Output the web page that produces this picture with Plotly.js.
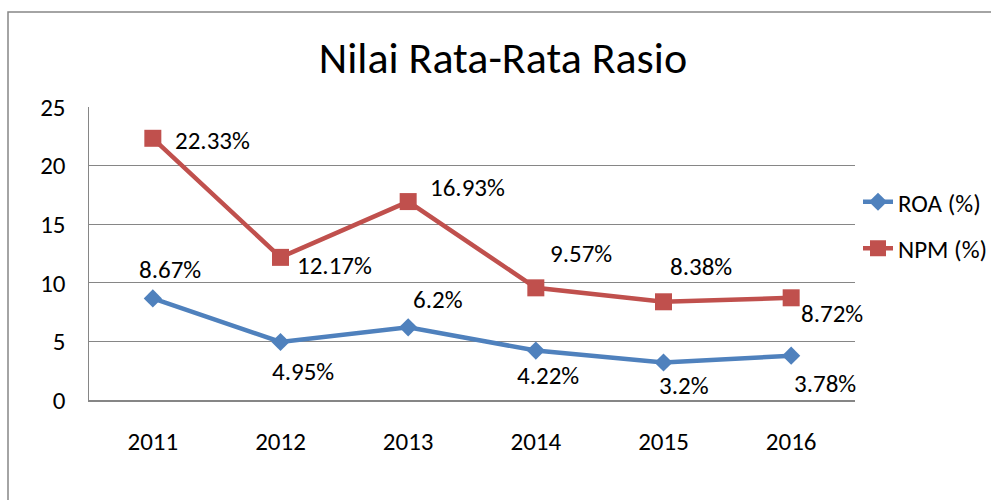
<!DOCTYPE html>
<html>
<head>
<meta charset="utf-8">
<script src="https://cdn.plot.ly/plotly-3.0.1.min.js"></script>
<style>html,body{margin:0;padding:0;background:#fff;}#chart{width:991px;height:500px;}</style>
</head>
<body>
<div id="chart"></div>
<script>
const years = ['2011', '2012', '2013', '2014', '2015', '2016'];
const roa = [8.67, 4.95, 6.2, 4.22, 3.2, 3.78];
const npm = [22.33, 12.17, 16.93, 9.57, 8.38, 8.72];
const roaName = 'ROA (%)';
const npmName = 'NPM (%)';
const titleText = 'Nilai Rata-Rata Rasio';

// label placement offsets (style only, pixels)
const roaLabelShift = [[17, 29], [22, -30], [30, 28], [12, -25], [20, -23], [34, -28]];
const npmLabelShift = [[60, -2], [54, -8], [59, 14], [45, 34], [37, 35], [41, -16]];

const FONT = 'Carlito, Calibri, Lato, sans-serif';
const TXT = 25;
const blue = '#4F81BD';
const red = '#C0504D';

const traces = [
  {
    x: years, y: roa, name: roaName, type: 'scatter', mode: 'lines+markers',
    line: {color: blue, width: 4.5},
    marker: {symbol: 'diamond', size: 14, color: blue},
    legendgroup: 'a'
  },
  {
    x: years, y: npm, name: npmName, type: 'scatter', mode: 'lines+markers',
    line: {color: red, width: 4.5},
    marker: {symbol: 'square', size: 17, color: red},
    legendgroup: 'b'
  }
];

const annotations = [];
function addLabels(vals, shifts) {
  vals.forEach((v, i) => {
    annotations.push({
      x: i, y: v, xref: 'x', yref: 'y', text: v + '%', showarrow: false,
      xshift: shifts[i][0], yshift: shifts[i][1],
      font: {family: FONT, size: TXT, color: '#000'}
    });
  });
}
addLabels(roa, roaLabelShift);
addLabels(npm, npmLabelShift);

const layout = {
  width: 991, height: 500,
  paper_bgcolor: '#fff', plot_bgcolor: '#fff',
  margin: {l: 89, r: 136, t: 107, b: 100},
  font: {family: FONT, size: TXT, color: '#000'},
  title: {
    text: titleText, font: {family: FONT, size: 44, color: '#000'},
    x: 503 / 991, xref: 'container', xanchor: 'center',
    y: 1 - 58 / 500, yref: 'container', yanchor: 'middle'
  },
  xaxis: {
    type: 'category', range: [-0.5, 5.5], showgrid: false, zeroline: false,
    showline: true, linecolor: '#868686', linewidth: 1.5,
    ticks: '', ticklabelstandoff: 18, tickfont: {family: FONT, size: TXT, color: '#000'}
  },
  yaxis: {
    range: [0, 25], dtick: 5, tick0: 0, showgrid: true, gridcolor: '#868686', gridwidth: 1.3,
    zeroline: false, showline: true, linecolor: '#868686', linewidth: 1.5,
    ticks: '', ticklabelstandoff: 17, tickfont: {family: FONT, size: TXT, color: '#000'}
  },
  showlegend: true,
  legend: {
    x: 858 / 991, xref: 'container', xanchor: 'left',
    y: 1 - 179 / 500, yref: 'container', yanchor: 'top',
    font: {family: FONT, size: TXT, color: '#000'},
    bgcolor: 'rgba(0,0,0,0)', tracegroupgap: 11
  },
  annotations: annotations,
  shapes: [{
    type: 'path', xref: 'paper', yref: 'paper',
    path: 'M ' + ((8 - 89) / 766) + ',' + ((400 - 520) / 293) +
          ' L ' + ((8 - 89) / 766) + ',' + ((400 - 12) / 293) +
          ' L ' + ((991 - 89) / 766) + ',' + ((400 - 12) / 293),
    line: {color: '#878787', width: 1.5}
  }]
};

Plotly.newPlot('chart', traces, layout, {displayModeBar: false, staticPlot: true});
</script>
</body>
</html>
